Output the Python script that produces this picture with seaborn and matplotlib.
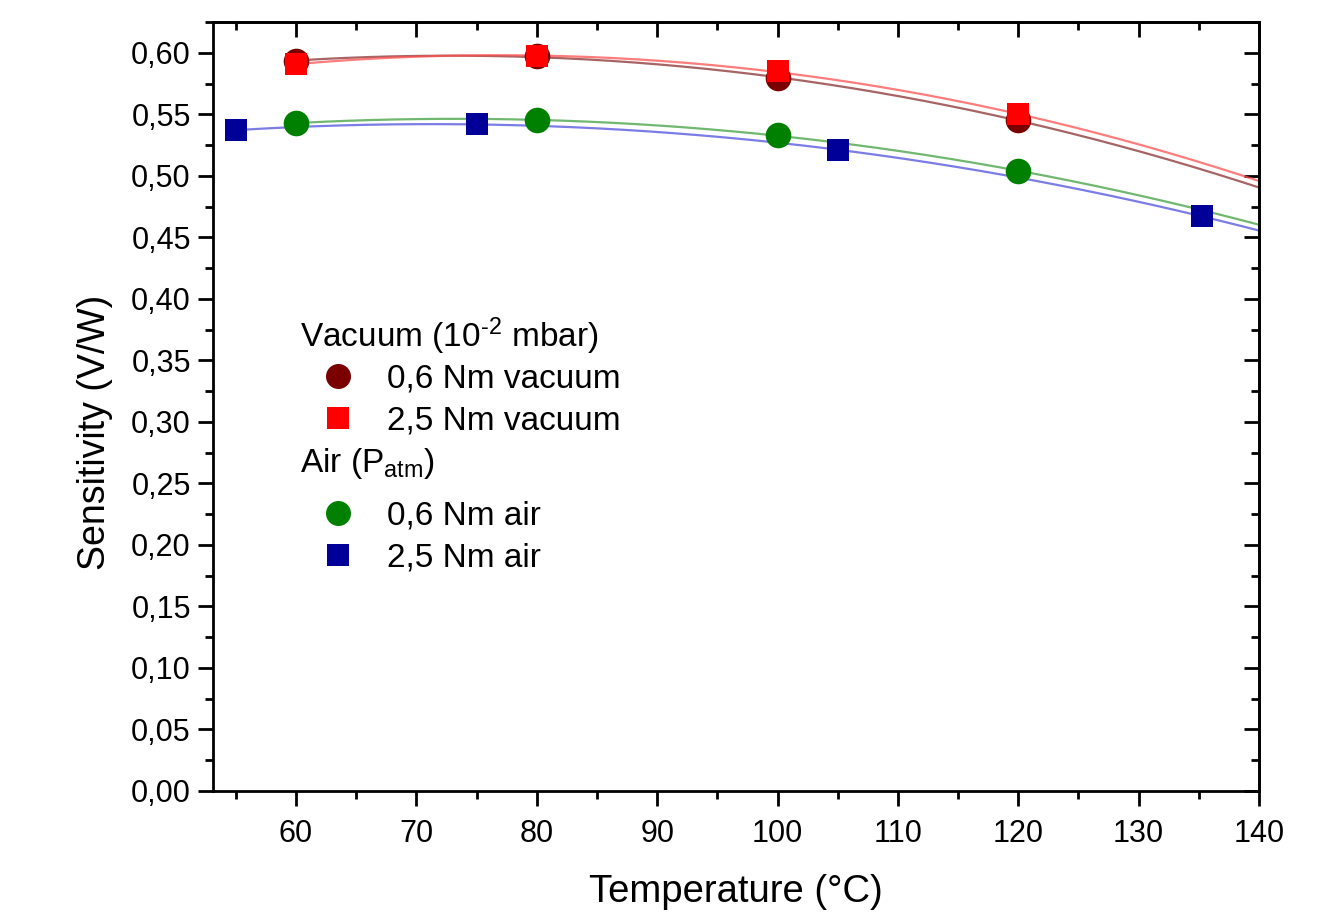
import numpy as np
import pandas as pd
import matplotlib
matplotlib.use("Agg")
import matplotlib.pyplot as plt
from matplotlib.lines import Line2D
from matplotlib.ticker import MultipleLocator, FuncFormatter
import seaborn as sns

# ---- data ----
t_vac06 = [60, 80, 100, 120]
s_vac06 = [0.5935, 0.597, 0.5795, 0.545]
t_vac25 = [60, 80, 100, 120]
s_vac25 = [0.591, 0.597, 0.585, 0.550]
t_air06 = [60, 80, 100, 120]
s_air06 = [0.543, 0.545, 0.533, 0.504]
t_air25 = [55, 75, 105, 135.3]
s_air25 = [0.537, 0.542, 0.521, 0.467]

labels = ["0,6 Nm vacuum", "2,5 Nm vacuum", "0,6 Nm air", "2,5 Nm air"]
marker_colors = ["#7a0000", "#ff0000", "#008000", "#000099"]
line_colors = ["#8a3030", "#ff5050", "#40a040", "#5050e0"]
markers = ["o", "s", "o", "s"]

sns.set_theme(style="white")
plt.rcParams["font.family"] = ["Liberation Sans", "DejaVu Sans"]
plt.rcParams["mathtext.fontset"] = "custom"
plt.rcParams["mathtext.rm"] = "Liberation Sans"
plt.rcParams["mathtext.it"] = "Liberation Sans"
plt.rcParams["text.color"] = "black"
plt.rcParams["axes.labelcolor"] = "black"
plt.rcParams["xtick.color"] = "black"
plt.rcParams["ytick.color"] = "black"

fig = plt.figure(figsize=(13.4, 9.14), dpi=100)
ax = fig.add_axes([213/1340, 1-791/914, (1259-213)/1340, (791-22)/914])

series = [(t_vac06, s_vac06), (t_vac25, s_vac25), (t_air06, s_air06), (t_air25, s_air25)]
x_end = 140
for i, (t, s) in enumerate(series):
    coef = np.polyfit(t, s, 2)
    xx = np.linspace(min(t), x_end, 200)
    fit = pd.DataFrame({"T": xx, "S": np.polyval(coef, xx)})
    sns.lineplot(data=fit, x="T", y="S", ax=ax, color=line_colors[i], lw=1.6,
                 alpha=0.75, zorder=2, legend=False)
for i, (t, s) in enumerate(series):
    df = pd.DataFrame({"T": t, "S": s})
    size = 340 if markers[i] == "o" else 255
    sns.scatterplot(data=df, x="T", y="S", ax=ax, marker=markers[i], s=size,
                    color=marker_colors[i], edgecolor=marker_colors[i], linewidth=0,
                    zorder=3, legend=False)

ax.set_xlim(53.1, 140)
ax.set_ylim(0, 0.625)
ax.xaxis.set_major_locator(MultipleLocator(10))
ax.xaxis.set_minor_locator(MultipleLocator(5))
ax.yaxis.set_major_locator(MultipleLocator(0.05))
ax.yaxis.set_minor_locator(MultipleLocator(0.025))
ax.yaxis.set_major_formatter(FuncFormatter(lambda v, p: f"{v:.2f}".replace(".", ",")))
ax.xaxis.set_major_formatter(FuncFormatter(lambda v, p: f"{v:.0f}"))

for sp in ax.spines.values():
    sp.set_linewidth(2.0)
    sp.set_color("black")
ax.tick_params(which="major", direction="out", length=11, width=2, labelsize=22,
               colors="black", pad=5)
ax.tick_params(which="minor", direction="out", length=6, width=2, colors="black")
ax.tick_params(which="both", bottom=True, left=True, top=False, right=False)
ax.tick_params(axis="x", pad=9)

sx = ax.secondary_xaxis("top")
sx.xaxis.set_major_locator(MultipleLocator(10))
sx.xaxis.set_minor_locator(MultipleLocator(5))
sx.tick_params(which="major", direction="in", length=11, width=2, labeltop=False)
sx.tick_params(which="minor", direction="in", length=6, width=2)
sx.spines["top"].set_linewidth(2.0)
sy = ax.secondary_yaxis("right")
sy.yaxis.set_major_locator(MultipleLocator(0.05))
sy.yaxis.set_minor_locator(MultipleLocator(0.025))
sy.tick_params(which="major", direction="in", length=11, width=2, labelright=False)
sy.tick_params(which="minor", direction="in", length=6, width=2)
sy.spines["right"].set_linewidth(2.0)

ax.set_xlabel("Temperature (°C)", fontsize=27.5, labelpad=18)
ax.set_ylabel("Sensitivity (V/W)", fontsize=27, labelpad=13)
ax.yaxis.label.set_y(1 - (432 - 22) / 769)

def handle(i):
    ms = 18 if markers[i] == "o" else 16
    return Line2D([], [], linestyle="none", marker=markers[i], markersize=ms,
                  markerfacecolor=marker_colors[i], markeredgewidth=0)

# group headers
ax.text(87/1046, 1-(347-22)/769, "Vacuum (10$^{\\mathregular{\u20102}}$ mbar)", transform=ax.transAxes,
        fontsize=24, ha="left", va="baseline")
ax.text(87/1046, 1-(472-22)/769, "Air (P$_{\\mathregular{atm}}$)", transform=ax.transAxes,
        fontsize=24, ha="left", va="baseline")

common = dict(fontsize=24, frameon=False, loc="center left", borderpad=0, borderaxespad=0,
              handlelength=2.4, handletextpad=0.26, labelspacing=0.33)
leg1 = ax.legend(handles=[handle(0), handle(1)], labels=labels[:2],
                 bbox_to_anchor=(85/1046, 1-(400-22)/769), **common)
ax.add_artist(leg1)
leg2 = ax.legend(handles=[handle(2), handle(3)], labels=labels[2:],
                 bbox_to_anchor=(85/1046, 1-(537-22)/769), **common)

fig.savefig("out.png", dpi=100)
